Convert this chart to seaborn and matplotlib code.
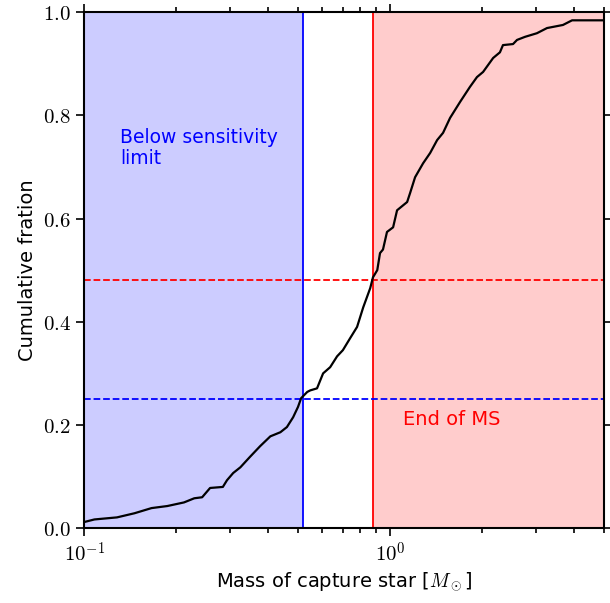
import numpy as np
import pandas as pd
import matplotlib
matplotlib.use('Agg')
import matplotlib.pyplot as plt
import seaborn as sns

# curve (mass in solar masses, cumulative fraction)
masses = [0.100, 0.108, 0.128, 0.146, 0.166, 0.187, 0.212, 0.229, 0.243, 0.258,
          0.284, 0.293, 0.307, 0.324, 0.348, 0.376, 0.406, 0.438, 0.460, 0.482,
          0.500, 0.512, 0.536, 0.548, 0.577, 0.604, 0.637, 0.671, 0.701, 0.740,
          0.780, 0.817, 0.861, 0.879, 0.908, 0.927, 0.948, 0.977, 1.023, 1.054,
          1.137, 1.162, 1.207, 1.282, 1.352, 1.425, 1.490, 1.571, 1.694, 1.824,
          1.923, 2.014, 2.172, 2.286, 2.339, 2.523, 2.600, 2.761, 3.020, 3.258,
          3.674, 3.935, 5.000]
cumfrac = [0.012, 0.017, 0.021, 0.029, 0.039, 0.043, 0.050, 0.058, 0.060, 0.078,
           0.080, 0.093, 0.107, 0.118, 0.138, 0.159, 0.178, 0.186, 0.196, 0.215,
           0.235, 0.252, 0.264, 0.267, 0.271, 0.300, 0.312, 0.333, 0.345, 0.368,
           0.390, 0.428, 0.465, 0.486, 0.500, 0.533, 0.540, 0.574, 0.583, 0.616,
           0.632, 0.649, 0.680, 0.707, 0.727, 0.752, 0.766, 0.795, 0.826, 0.855,
           0.874, 0.884, 0.911, 0.922, 0.936, 0.938, 0.946, 0.952, 0.959, 0.969,
           0.975, 0.984, 0.984]

m_limit = 0.52     # sensitivity limit
m_ms = 0.88        # end of main sequence
frac_limit = 0.25
frac_ms = 0.48
x_min, x_max = 0.1, 5.0

df = pd.DataFrame({'mass': masses, 'frac': cumfrac})

sns.set_style('ticks')
plt.rcParams['font.family'] = ['DejaVu Sans']
plt.rcParams['mathtext.fontset'] = 'cm'
plt.rcParams['axes.edgecolor'] = 'black'
plt.rcParams['axes.labelcolor'] = 'black'
plt.rcParams['xtick.color'] = 'black'
plt.rcParams['ytick.color'] = 'black'
plt.rcParams['text.color'] = 'black'

fig = plt.figure(figsize=(6.1, 6.03), dpi=100)
ax = fig.add_axes([0.138, 0.124, 0.852, 0.856])

ax.axvspan(x_min, m_limit, color='blue', alpha=0.2, lw=0)
ax.axvspan(m_ms, x_max, color='red', alpha=0.2, lw=0)
ax.axvline(m_limit, color='blue', lw=1.3)
ax.axvline(m_ms, color='red', lw=1.3)
ax.axhline(frac_limit, color='blue', ls='--', lw=1.3)
ax.axhline(frac_ms, color='red', ls='--', lw=1.3)

sns.lineplot(data=df, x='mass', y='frac', ax=ax, color='black', lw=1.6,
             estimator=None, sort=False)

ax.set_xscale('log')
ax.set_xlim(x_min, x_max)
ax.set_ylim(0, 1)

ax.text(0.131, 0.775, 'Below sensitivity\nlimit', color='blue', fontsize=13.5,
        va='top', ha='left', linespacing=1.15)
ax.text(1.10, 0.21, 'End of MS', color='red', fontsize=14, va='center', ha='left')

ax.set_xlabel(r'Mass of capture star [$M_\odot$]', fontsize=14)
ax.set_ylabel('Cumulative fration', fontsize=14)

ax.set_yticks([0.0, 0.2, 0.4, 0.6, 0.8, 1.0])
ax.yaxis.set_major_formatter(plt.FuncFormatter(lambda v, p: f'${v:.1f}$'))
ax.xaxis.set_major_formatter(plt.FuncFormatter(
    lambda v, p: f'$10^{{{int(round(np.log10(v)))}}}$'))

ax.tick_params(which='both', top=True, right=True, direction='out',
               labelsize=15, width=1.2)
ax.tick_params(which='major', length=6)
ax.tick_params(which='minor', length=3.5)
for s in ax.spines.values():
    s.set_linewidth(1.5)
    s.set_visible(True)

fig.savefig('out.png', dpi=100)
